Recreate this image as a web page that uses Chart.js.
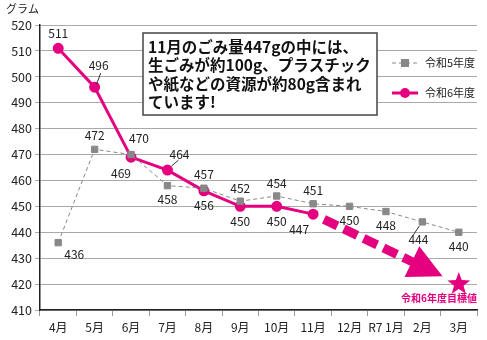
<!DOCTYPE html>
<html>
<head>
<meta charset="utf-8">
<script src="https://cdn.jsdelivr.net/npm/chart.js@4"></script>
<style>
  body { margin: 0; background: #fff; }
  #wrap { width: 487px; height: 340px; }
</style>
</head>
<body>
<div id="wrap"><canvas id="myChart" width="487" height="340"></canvas></div>
<script>
let months = ['4月', '5月', '6月', '7月', '8月', '9月', '10月', '11月', '12月', 'R7 1月', '2月', '3月'];
let r5Values = [436, 472, 470, 458, 457, 452, 454, 451, 450, 448, 444, 440];
let r6Values = [511, 496, 469, 464, 456, 450, 450, 447];
let seriesNames = ['令和5年度', '令和6年度'];
let targetValue = 420;
let targetLabel = '令和6年度目標値';
let unitLabel = 'グラム';
let noteLines = ['11月のごみ量447gの中には、', '生ごみが約100g、プラスチック', 'や紙などの資源が約80g含まれ', 'ています!'];

let pink = '#e4007f';
let gray = '#888888';
let font = '"Noto Sans CJK JP", "Noto Sans", sans-serif';

// label offsets (dx, dy) relative to each point
let r5Offsets = [[16, 12], [0, -14], [8, -16], [0, 14], [0, -14], [0, -13], [0, -13], [0, -13], [0, 14], [0, 14], [-4, 18], [0, 14]];
let r6Offsets = [[0, -15], [4, -22], [-10, 16], [12, -16], [0, 15], [0, 15], [0, 15], [-14, 15]];
// leader lines: [dataset, index, x1, y1, x2, y2] in offsets from the point
let leaders = [[1, 1, 2, -3, 6, -14], [1, 3, 4, -4, 11, -10], [0, 10, -3, 4, -9, 13]];

let ctx = document.getElementById('myChart').getContext('2d');

let extras = {
    id: 'extras',
    beforeDatasetsDraw(chart) {
        let c = chart.ctx;
        let x = chart.scales.x, y = chart.scales.y;
        // dashed arrow towards the target
        let x0 = x.getPixelForValue(7), y0 = y.getPixelForValue(r6Values[7]);
        let x1 = x.getPixelForValue(11), y1 = y.getPixelForValue(targetValue);
        let dx = x1 - x0, dy = y1 - y0, len = Math.sqrt(dx * dx + dy * dy);
        let ux = dx / len, uy = dy / len;
        let tip = len - 18, headLen = 34, headW = 17;
        c.save();
        c.strokeStyle = pink;
        c.lineWidth = 9;
        c.setLineDash([15, 7]);
        c.beginPath();
        c.moveTo(x0 + ux * 12, y0 + uy * 12);
        c.lineTo(x0 + ux * (tip - headLen + 2), y0 + uy * (tip - headLen + 2));
        c.stroke();
        c.setLineDash([]);
        let tx = x0 + ux * tip, ty = y0 + uy * tip;
        let bx = x0 + ux * (tip - headLen), by = y0 + uy * (tip - headLen);
        c.fillStyle = pink;
        c.beginPath();
        c.moveTo(tx, ty);
        c.lineTo(bx - uy * headW, by + ux * headW);
        c.lineTo(bx + uy * headW, by - ux * headW);
        c.closePath();
        c.fill();
        // star
        c.beginPath();
        let R = 12, r = 5;
        for (let i = 0; i < 10; i++) {
            let a = -Math.PI / 2 + i * Math.PI / 5;
            let rr = i % 2 === 0 ? R : r;
            c.lineTo(x1 + rr * Math.cos(a), y1 + rr * Math.sin(a));
        }
        c.closePath();
        c.fill();
        c.font = 'bold 10px ' + font;
        c.textAlign = 'right';
        c.textBaseline = 'middle';
        c.fillText(targetLabel, chart.chartArea.right, y1 + 14);
        c.restore();
    },
    afterDatasetsDraw(chart) {
        let c = chart.ctx;
        c.save();
        // data labels
        c.font = '12px ' + font;
        c.fillStyle = '#222';
        c.textAlign = 'center';
        c.textBaseline = 'middle';
        [r5Offsets, r6Offsets].forEach((offs, di) => {
            let meta = chart.getDatasetMeta(di);
            meta.data.forEach((pt, i) => {
                c.fillText(chart.data.datasets[di].data[i], pt.x + offs[i][0], pt.y + offs[i][1]);
            });
        });
        c.strokeStyle = '#333';
        c.lineWidth = 1;
        leaders.forEach(l => {
            let pt = chart.getDatasetMeta(l[0]).data[l[1]];
            c.beginPath();
            c.moveTo(pt.x + l[2], pt.y + l[3]);
            c.lineTo(pt.x + l[4], pt.y + l[5]);
            c.stroke();
        });
        // note box
        let bx = 143, by = 33, bw = 234, bh = 82;
        c.fillStyle = '#fff';
        c.fillRect(bx, by, bw, bh);
        c.strokeStyle = '#444';
        c.lineWidth = 1.5;
        c.strokeRect(bx, by, bw, bh);
        c.fillStyle = '#111';
        c.font = 'bold 15.5px ' + font;
        c.textAlign = 'left';
        noteLines.forEach((t, i) => c.fillText(t, bx + 5, by + 14 + i * 18.5));
        // legend
        c.font = '11px ' + font;
        let lx = 392, ly = [63, 93];
        chart.data.datasets.forEach((ds, i) => {
            c.strokeStyle = ds.borderColor;
            c.lineWidth = ds.borderWidth;
            c.setLineDash(ds.borderDash || []);
            c.beginPath();
            c.moveTo(lx, ly[i]);
            c.lineTo(lx + 26, ly[i]);
            c.stroke();
            c.setLineDash([]);
            c.fillStyle = ds.pointBackgroundColor;
            if (ds.pointStyle === 'rect') c.fillRect(lx + 9, ly[i] - 4, 8, 8);
            else { c.beginPath(); c.arc(lx + 13, ly[i], 5, 0, Math.PI * 2); c.fill(); }
            c.fillStyle = '#222';
            c.fillText(ds.label, lx + 33, ly[i]);
        });
        // unit label
        c.font = '11px ' + font;
        c.fillStyle = '#222';
        c.fillText(unitLabel, 6, 9);
        c.restore();
    }
};

let myChart = new Chart(ctx, {
    type: 'line',
    data: {
        labels: months,
        datasets: [{
            label: seriesNames[0],
            data: r5Values,
            borderColor: gray,
            borderWidth: 1,
            borderDash: [4, 3],
            pointStyle: 'rect',
            pointRadius: 4.5,
            pointBackgroundColor: gray,
            pointBorderColor: gray,
            tension: 0
        }, {
            label: seriesNames[1],
            data: r6Values,
            borderColor: pink,
            borderWidth: 3,
            pointStyle: 'circle',
            pointRadius: 4,
            pointBackgroundColor: pink,
            pointBorderColor: pink,
            tension: 0
        }]
    },
    options: {
        responsive: false,
        animation: false,
        layout: {
            padding: { top: 25, right: 10, left: 0, bottom: 0 }
        },
        plugins: {
            legend: { display: false },
            tooltip: { enabled: false }
        },
        scales: {
            x: {
                offset: true,
                grid: { display: true, drawOnChartArea: false, offset: true, color: '#999', tickLength: 6 },
                border: { color: '#222', width: 1.5 },
                ticks: { color: '#222', font: { family: font, size: 12 }, maxRotation: 0, autoSkip: false, padding: 4 },
                afterFit: (scale) => { scale.height = 30; }
            },
            y: {
                min: 410,
                max: 520,
                grid: { color: '#aaa', tickLength: 5 },
                border: { color: '#222', width: 1.5 },
                ticks: { stepSize: 10, color: '#222', font: { family: font, size: 12.5 }, padding: 3 },
                afterFit: (scale) => { scale.width = 40; }
            }
        }
    },
    plugins: [extras]
});
</script>
</body>
</html>
